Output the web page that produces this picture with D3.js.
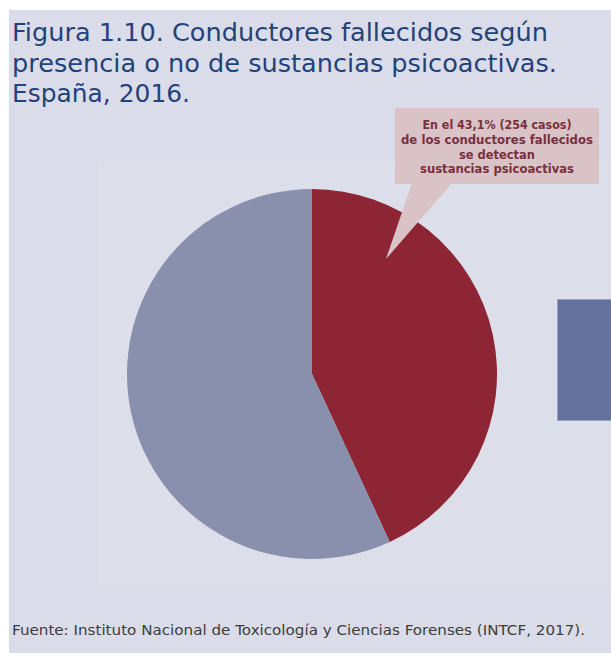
<!DOCTYPE html>
<html>
<head>
<meta charset="utf-8">
<script src="https://cdn.jsdelivr.net/npm/d3@7"></script>
<style>
  html, body { margin: 0; padding: 0; background: #ffffff; }
  svg { display: block; }
</style>
</head>
<body>
<svg id="chart" width="611" height="653"></svg>
<script>
// Conductores fallecidos según presencia de sustancias psicoactivas (España, 2016)
const categories = ["Con sustancias psicoactivas", "Sin sustancias psicoactivas"];
const shares = [43.1, 56.9];
const sliceColors = ["#8e2534", "#8890ae"];
const titleLines = [
  "Figura 1.10. Conductores fallecidos según",
  "presencia o no de sustancias psicoactivas.",
  "España, 2016."
];
const titleWidths = [536, 545, 178];
const calloutLines = [
  "En el 43,1% (254 casos)",
  "de los conductores fallecidos",
  "se detectan",
  "sustancias psicoactivas"
];
const calloutWidths = [149, 192, 76, 154];
const sourceText = "Fuente: Instituto Nacional de Toxicología y Ciencias Forenses (INTCF, 2017).";

const svg = d3.select("#chart");
const font = "'DejaVu Sans', Verdana, sans-serif";

// panel backgrounds
svg.append("rect").attr("x", 9).attr("y", 10).attr("width", 602).attr("height", 643)
  .attr("fill", "#dadde9");
svg.append("rect").attr("x", 98).attr("y", 161).attr("width", 513).attr("height", 426)
  .attr("fill", "#dcdfea");

// title
svg.append("g").selectAll("text").data(titleLines).join("text")
  .attr("x", 12)
  .attr("y", (d, i) => 41 + i * 30.5)
  .attr("font-family", font)
  .attr("font-size", 25)
  .attr("textLength", (d, i) => titleWidths[i])
  .attr("lengthAdjust", "spacingAndGlyphs")
  .attr("fill", "#23427a")
  .text(d => d);

// pie
const cx = 312, cy = 374, r = 185;
const pie = d3.pie().sort(null).value(d => d)(shares);
const arc = d3.arc().innerRadius(0).outerRadius(r);
svg.append("g").attr("transform", `translate(${cx},${cy})`)
  .selectAll("path").data(pie).join("path")
  .attr("d", arc)
  .attr("fill", (d, i) => sliceColors[i]);

// legend swatch at the right edge
svg.append("rect").attr("x", 557.5).attr("y", 299.5).attr("width", 60).attr("height", 121)
  .attr("fill", "#64719c").attr("stroke", "#9aa2c0").attr("stroke-width", 1);

// callout with pointer toward the red slice
const callout = svg.append("g");
callout.append("path")
  .attr("d", "M412,183 L452,183 L386,259 Z")
  .attr("fill", "#d9c3c6");
callout.append("rect").attr("x", 395).attr("y", 108).attr("width", 204).attr("height", 76)
  .attr("fill", "#d9c3c6");
callout.selectAll("text").data(calloutLines).join("text")
  .attr("x", 497)
  .attr("y", (d, i) => 129 + i * 14.8)
  .attr("text-anchor", "middle")
  .attr("font-family", font)
  .attr("font-weight", "bold")
  .attr("font-size", 12)
  .attr("textLength", (d, i) => calloutWidths[i])
  .attr("lengthAdjust", "spacingAndGlyphs")
  .attr("fill", "#7a2f3e")
  .text(d => d);

// source note
svg.append("text")
  .attr("x", 12).attr("y", 635)
  .attr("font-family", font)
  .attr("font-size", 14)
  .attr("textLength", 573)
  .attr("lengthAdjust", "spacingAndGlyphs")
  .attr("fill", "#3c3c3c")
  .text(sourceText);
</script>
</body>
</html>
